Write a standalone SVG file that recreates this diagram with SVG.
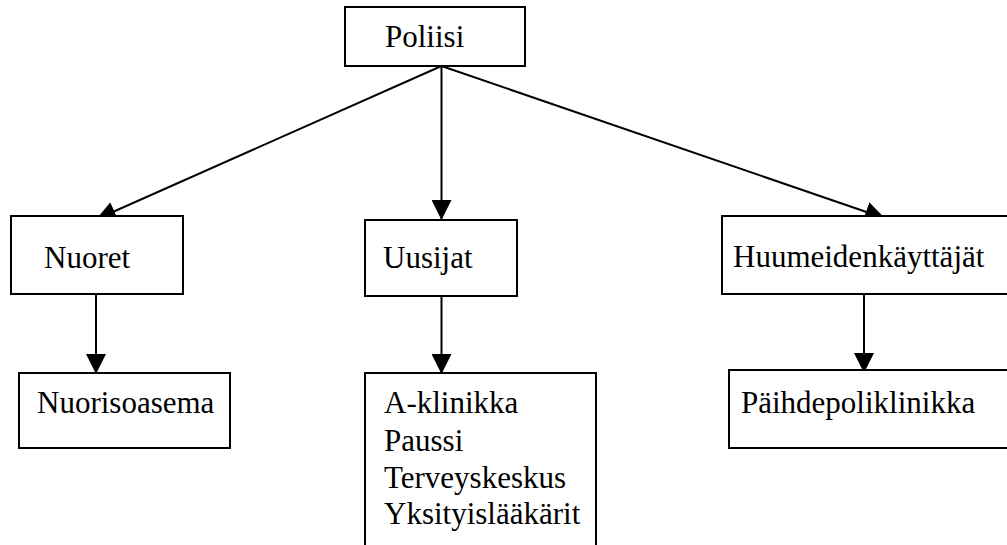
<svg xmlns="http://www.w3.org/2000/svg" width="1007" height="545" viewBox="0 0 1007 545">
<style>
.box{fill:#fff;stroke:#000;stroke-width:2}
.lbl{font-family:"Liberation Serif","Times New Roman",serif;font-size:31px;fill:#000}
.edge{stroke:#000;stroke-width:2;fill:none;marker-end:url(#arr)}
</style>
<defs>
<marker id="arr" markerUnits="userSpaceOnUse" markerWidth="20" markerHeight="20" viewBox="0 0 20 20" refX="19" refY="10" orient="auto">
<path d="M0,0 L20,10 L0,20 z" fill="#000"/>
</marker>
</defs>
<rect width="1007" height="545" fill="#fff"/>
<g id="connectors">
<line class="edge" x1="441.5" y1="66" x2="97" y2="219"/>
<line class="edge" x1="441.5" y1="66" x2="441.5" y2="219"/>
<line class="edge" x1="441.5" y1="66" x2="884" y2="218"/>
<line class="edge" x1="96" y1="294" x2="96" y2="373"/>
<line class="edge" x1="441.5" y1="296" x2="441.5" y2="373"/>
<line class="edge" x1="864" y1="294" x2="864" y2="372"/>
</g>
<g id="poliisi">
<rect class="box" x="345" y="7" width="180" height="59"/>
<text class="lbl" x="385" y="47">Poliisi</text>
</g>
<g id="nuoret">
<rect class="box" x="11" y="216" width="172" height="78"/>
<text class="lbl" x="44" y="268">Nuoret</text>
</g>
<g id="uusijat">
<rect class="box" x="365" y="220" width="152" height="76"/>
<text class="lbl" x="383" y="268">Uusijat</text>
</g>
<g id="huumeidenkayttajat">
<rect class="box" x="722" y="216" width="300" height="78"/>
<text class="lbl" x="733" y="267">Huumeidenkäyttäjät</text>
</g>
<g id="nuorisoasema">
<rect class="box" x="19" y="373" width="211" height="75"/>
<text class="lbl" x="37" y="413">Nuorisoasema</text>
</g>
<g id="hoitopaikat">
<path class="box" d="M365,560 L365,373 L596,373 L596,560"/>
<text class="lbl" x="384" y="413">A-klinikka</text>
<text class="lbl" x="384" y="451">Paussi</text>
<text class="lbl" x="384" y="488">Terveyskeskus</text>
<text class="lbl" x="384" y="524">Yksityislääkärit</text>
</g>
<g id="paihdepoliklinikka">
<rect class="box" x="729" y="370" width="300" height="78"/>
<text class="lbl" x="741" y="413">Päihdepoliklinikka</text>
</g>
</svg>
